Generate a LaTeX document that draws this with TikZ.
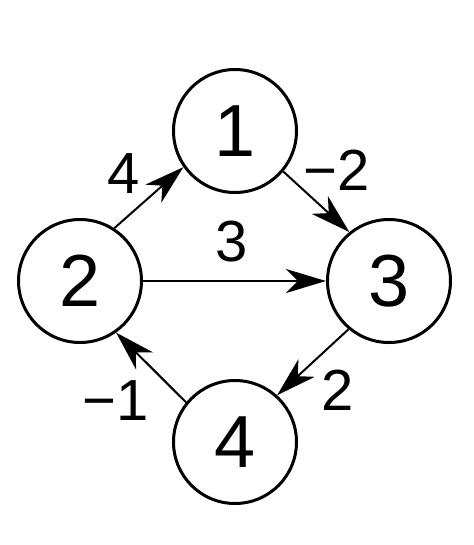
\documentclass[tikz,border=0pt]{standalone}
\usepackage{fontspec}
\setmainfont{Liberation Sans}
\usepackage{tikz}
\usetikzlibrary{positioning,arrows.meta}
\definecolor{cEdge}{HTML}{000000}
\definecolor{cVert}{HTML}{000000}
\tikzset{
  vert/.style={draw=cVert, fill=white, circle, line width=0.6mm,
               minimum size=24.6mm, inner sep=0pt, font=\fontsize{42}{42}\selectfont},
  arc/.style={-{Stealth[length=8mm, width=4.8mm, inset=2.4mm]}, line width=0.4mm, draw=cEdge},
  wlbl/.style={font=\fontsize{33}{33}\selectfont, inner sep=0pt},
}
\begin{document}
\begin{tikzpicture}
\useasboundingbox (0,0) rectangle (9.48,-10.9);

% ========== VERTICES ==========
\node[vert] (v1) at (4.70,-2.62) {1};
\node[vert] (v2) at (1.60,-5.62) {2};
\node[vert] (v3) at (7.78,-5.62) {3};
\node[vert] (v4) at (4.70,-8.84) {4};

% ========== WEIGHTED ARCS ==========
\draw[arc] (v2.57)  -- (v1.215);
\draw[arc] (v1.320) -- (v3.129);
\draw[arc] (v2.east) -- (v3.west);
\draw[arc] (v3.230) -- (v4.48);
\draw[arc] (v4.141) -- (v2.305);

\node[wlbl] (w21) at (2.48,-3.48) {4};
\node[wlbl] (w13) at (6.74,-3.40) {−2};
\node[wlbl] (w23) at (4.64,-4.84) {3};
\node[wlbl] (w34) at (6.76,-7.80) {2};
\node[wlbl] (w42) at (2.32,-8.02) {−1};

\end{tikzpicture}
\end{document}
